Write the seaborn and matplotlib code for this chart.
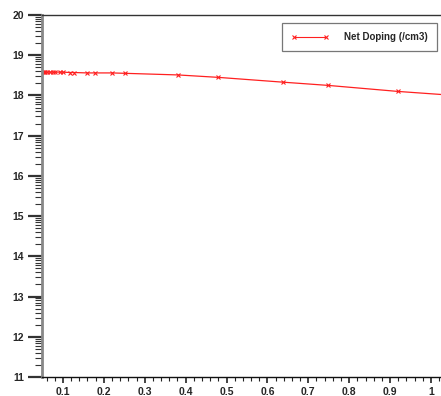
import numpy as np
import pandas as pd
import matplotlib
matplotlib.use("Agg")
import matplotlib.pyplot as plt
import seaborn as sns
from matplotlib.ticker import FixedLocator

# data (log10 of net doping)
x_pos = [0.049, 0.053, 0.057, 0.062, 0.068, 0.075, 0.081, 0.093, 0.100, 0.117, 0.127,
         0.159, 0.178, 0.220, 0.252, 0.381, 0.479, 0.638, 0.748, 0.919, 1.03]
doping = [18.58, 18.58, 18.58, 18.58, 18.58, 18.58, 18.58, 18.58, 18.58, 18.57, 18.57,
          18.56, 18.56, 18.56, 18.55, 18.51, 18.45, 18.33, 18.25, 18.10, 18.02]
marker_count = 20
series_name = "Net Doping (/cm3)"
x_ticks = [0.1, 0.2, 0.3, 0.4, 0.5, 0.6, 0.7, 0.8, 0.9, 1.0]
x_tick_labels = ["0.1", "0.2", "0.3", "0.4", "0.5", "0.6", "0.7", "0.8", "0.9", "1"]
y_ticks = [11, 12, 13, 14, 15, 16, 17, 18, 19, 20]

RED = "#ff2020"

sns.set_style("white")
plt.rcParams['font.family'] = ['Liberation Sans', 'DejaVu Sans']

fig = plt.figure(figsize=(4.41, 3.96), dpi=100)
ax = fig.add_axes([42/441, 19/396, 1 - 42/441, 362/396])

df = pd.DataFrame({"x": x_pos, "y": doping, "s": series_name})
sns.lineplot(data=df, x="x", y="y", hue="s", palette=[RED], ax=ax,
             linewidth=0.9, marker="x", markersize=3.5, markeredgewidth=0.8,
             markeredgecolor=RED, markerfacecolor=RED,
             markevery=list(range(marker_count)))

ax.set_xlim(0.0489, 1.0244)
ax.set_ylim(11, 20)
ax.set_xlabel("")
ax.set_ylabel("")

ax.xaxis.set_major_locator(FixedLocator(x_ticks))
ax.set_xticklabels(x_tick_labels)
minor_x = [round(0.06 + 0.02 * i, 2) for i in range(49)]
minor_x = [v for v in minor_x if all(abs(v - t) > 1e-6 for t in x_ticks)]
ax.xaxis.set_minor_locator(FixedLocator(minor_x))

ax.yaxis.set_major_locator(FixedLocator(y_ticks))
ax.set_yticklabels([str(v) for v in y_ticks])
minor_y = [d + np.log10(k) for d in range(11, 20) for k in range(2, 10)]
ax.yaxis.set_minor_locator(FixedLocator(minor_y))

ax.tick_params(axis="y", which="major", direction="out", length=10, width=1.6,
               color="#333333", labelsize=7.5, pad=3, left=True)
ax.tick_params(axis="y", which="minor", direction="out", length=5, width=0.8,
               color="#333333", left=True)
ax.tick_params(axis="x", which="major", direction="out", length=4.5, width=1.2,
               color="#222222", labelsize=7.5, pad=3, bottom=True)
ax.tick_params(axis="x", which="minor", direction="out", length=3, width=0.8,
               color="#222222", bottom=True)
for lab in ax.get_xticklabels() + ax.get_yticklabels():
    lab.set_fontweight("bold")

ax.spines["left"].set_color("#888888")
ax.spines["left"].set_linewidth(2)
ax.spines["top"].set_color("#333333")
ax.spines["top"].set_linewidth(1)
ax.spines["bottom"].set_color("#111111")
ax.spines["bottom"].set_linewidth(1)
ax.spines["right"].set_visible(False)

leg = ax.legend(loc="upper right", bbox_to_anchor=(0.99, 0.978), frameon=True,
                fancybox=False, edgecolor="#555555", numpoints=2,
                prop={"weight": "bold", "size": 7}, handlelength=3.8,
                borderpad=0.95, handletextpad=1.6, borderaxespad=0)
leg.get_frame().set_linewidth(0.9)
for h in leg.get_lines():
    h.set_markevery(None)
    h.set_linewidth(0.8)

fig.savefig("out.png", dpi=100)
